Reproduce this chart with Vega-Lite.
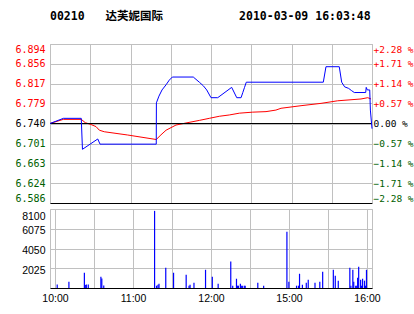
{
  "$schema": "https://vega.github.io/schema/vega-lite/v6.json",
  "padding": {"left": 14, "top": 11, "right": 0, "bottom": 0},
  "background": "white",
  "title": {
    "text": "00210\u00a0\u00a0\u00a0达芙妮国际\u00a0\u00a0\u00a0\u00a0\u00a0\u00a0\u00a0\u00a0\u00a0\u00a0\u00a02010-03-09\u00a016:03:48",
    "anchor": "start",
    "frame": "group",
    "font": "DejaVu Sans Mono, Noto Sans CJK SC",
    "fontSize": 11.5,
    "fontWeight": "bold",
    "color": "#000000",
    "offset": 21
  },
  "bounds": "flush",
  "spacing": 6,
  "config": {
    "view": {"stroke": "#c0c0c0", "strokeWidth": 1},
    "axis": {"labelOverlap": false, "ticks": false, "gridColor": "#c0c0c0", "gridOpacity": 1, "gridWidth": 1, "title": null}
  },
  "datasets": {
    "base": [{"close": 6.74}],
    "price": [
      {"t": 0, "p": 6.74}, {"t": 10, "p": 6.75}, {"t": 23.3, "p": 6.75}, {"t": 24.2, "p": 6.69},
      {"t": 35.6, "p": 6.71}, {"t": 37.3, "p": 6.70}, {"t": 79.2, "p": 6.70}, {"t": 79.3, "p": 6.78},
      {"t": 81.2, "p": 6.793}, {"t": 83.5, "p": 6.805}, {"t": 86.5, "p": 6.815}, {"t": 88.9, "p": 6.824},
      {"t": 91.2, "p": 6.83}, {"t": 106.8, "p": 6.83}, {"t": 111.3, "p": 6.82}, {"t": 114.3, "p": 6.813},
      {"t": 116.8, "p": 6.805}, {"t": 120, "p": 6.79}, {"t": 125, "p": 6.79}, {"t": 135.4, "p": 6.81},
      {"t": 139.2, "p": 6.79}, {"t": 142.4, "p": 6.79}, {"t": 143.7, "p": 6.80}, {"t": 145, "p": 6.81},
      {"t": 146.3, "p": 6.82}, {"t": 203.7, "p": 6.82}, {"t": 205.7, "p": 6.85}, {"t": 215.6, "p": 6.85},
      {"t": 217.4, "p": 6.82}, {"t": 219.6, "p": 6.811}, {"t": 222.6, "p": 6.808}, {"t": 224.6, "p": 6.804},
      {"t": 226.8, "p": 6.80}, {"t": 235.3, "p": 6.80}, {"t": 235.7, "p": 6.81}, {"t": 236.5, "p": 6.805},
      {"t": 238.3, "p": 6.805}, {"t": 238.8, "p": 6.766}, {"t": 240, "p": 6.73}
    ],
    "avg": [
      {"t": 0, "a": 6.74}, {"t": 9.9, "a": 6.748}, {"t": 23.3, "a": 6.748}, {"t": 26.3, "a": 6.7416},
      {"t": 30.6, "a": 6.738}, {"t": 34.3, "a": 6.734}, {"t": 36.8, "a": 6.727}, {"t": 40.5, "a": 6.724},
      {"t": 57.9, "a": 6.7177}, {"t": 79.2, "a": 6.709}, {"t": 82.7, "a": 6.718}, {"t": 86.5, "a": 6.727},
      {"t": 90.2, "a": 6.732}, {"t": 93.9, "a": 6.737}, {"t": 101.4, "a": 6.741}, {"t": 111.3, "a": 6.746},
      {"t": 118.7, "a": 6.750}, {"t": 126.2, "a": 6.754}, {"t": 133.6, "a": 6.7565}, {"t": 141.1, "a": 6.760},
      {"t": 151.1, "a": 6.762}, {"t": 161, "a": 6.763}, {"t": 168.4, "a": 6.766}, {"t": 172.2, "a": 6.7695},
      {"t": 187.1, "a": 6.7745}, {"t": 202, "a": 6.779}, {"t": 214.4, "a": 6.784}, {"t": 231.8, "a": 6.7875},
      {"t": 236.8, "a": 6.790}, {"t": 239.3, "a": 6.7875}
    ],
    "vol": [
      {"t": 1.7, "v": 370}, {"t": 10.7, "v": 645}, {"t": 22.6, "v": 1565}, {"t": 23.3, "v": 310},
      {"t": 24.1, "v": 370}, {"t": 25.6, "v": 370}, {"t": 35.3, "v": 1155}, {"t": 36.0, "v": 980},
      {"t": 37.5, "v": 265}, {"t": 76.6, "v": 7910}, {"t": 78.1, "v": 235}, {"t": 79.2, "v": 340},
      {"t": 80.0, "v": 440}, {"t": 85.2, "v": 2075}, {"t": 91.2, "v": 1565}, {"t": 100.9, "v": 1360},
      {"t": 103.1, "v": 235}, {"t": 103.9, "v": 340}, {"t": 106.9, "v": 540}, {"t": 115.8, "v": 1870},
      {"t": 121.0, "v": 1155}, {"t": 125.5, "v": 440}, {"t": 135.2, "v": 2720}, {"t": 136.7, "v": 235},
      {"t": 139.6, "v": 950}, {"t": 140.4, "v": 235}, {"t": 141.1, "v": 235}, {"t": 142.6, "v": 440},
      {"t": 143.3, "v": 235}, {"t": 144.1, "v": 235}, {"t": 145.6, "v": 235}, {"t": 146.3, "v": 235},
      {"t": 156.0, "v": 540}, {"t": 160.5, "v": 235}, {"t": 178.4, "v": 5760}, {"t": 179.9, "v": 645},
      {"t": 185.8, "v": 235}, {"t": 187.3, "v": 235}, {"t": 188.1, "v": 1460}, {"t": 190.3, "v": 340},
      {"t": 193.3, "v": 540}, {"t": 194.8, "v": 850}, {"t": 200.0, "v": 540}, {"t": 203.7, "v": 645},
      {"t": 205.9, "v": 1670}, {"t": 214.1, "v": 1870}, {"t": 215.6, "v": 1260}, {"t": 217.9, "v": 750},
      {"t": 226.8, "v": 2075}, {"t": 227.6, "v": 235}, {"t": 229.1, "v": 1870}, {"t": 229.8, "v": 645},
      {"t": 231.3, "v": 235}, {"t": 232.1, "v": 235}, {"t": 232.8, "v": 1050}, {"t": 233.6, "v": 2180},
      {"t": 235.1, "v": 850}, {"t": 235.8, "v": 235}, {"t": 236.6, "v": 950}, {"t": 238.1, "v": 750},
      {"t": 238.8, "v": 235}, {"t": 239.6, "v": 1870}
    ]
  },
  "vconcat": [
    {
      "width": 322,
      "height": 159,
      "layer": [
        {
          "data": {"name": "avg"},
          "mark": {"type": "line", "color": "#ff0000", "strokeWidth": 1},
          "encoding": {
            "x": {
              "field": "t", "type": "quantitative",
              "scale": {"domain": [0, 240], "nice": false, "zero": false},
              "axis": {"values": [0, 30, 60, 90, 120, 150, 180, 210, 240], "labels": false, "ticks": false, "domain": true, "domainColor": "#000000", "grid": true, "title": null}
            },
            "y": {
              "field": "a", "type": "quantitative",
              "scale": {"domain": [6.586, 6.894], "nice": false, "zero": false},
              "axis": {
                "orient": "left",
                "values": [6.586, 6.624, 6.663, 6.701, 6.74, 6.779, 6.817, 6.856, 6.894],
                "format": ".3f",
                "labelFont": "DejaVu Sans Mono",
                "labelFontSize": 10,
                "labelPadding": 5,
                "labelFlush": true,
                "labelColor": {"condition": [{"test": "datum.value > 6.741", "value": "#ff0000"}, {"test": "datum.value < 6.739", "value": "#006000"}], "value": "#000000"},
                "domain": false, "ticks": false, "grid": true, "title": null
              }
            }
          }
        },
        {
          "data": {"name": "base"},
          "mark": {"type": "rule", "color": "#000000", "strokeWidth": 1},
          "encoding": {
            "y": {"field": "close", "type": "quantitative", "scale": {"domain": [6.586, 6.894], "nice": false, "zero": false}, "axis": null}
          }
        },
        {
          "data": {"name": "price"},
          "mark": {"type": "line", "color": "#0000ff", "strokeWidth": 1},
          "encoding": {
            "x": {"field": "t", "type": "quantitative", "scale": {"domain": [0, 240], "nice": false, "zero": false}},
            "y": {
              "field": "p", "type": "quantitative",
              "scale": {"domain": [6.586, 6.894], "nice": false, "zero": false},
              "axis": {
                "orient": "right",
                "values": [6.586, 6.624, 6.663, 6.701, 6.74, 6.779, 6.817, 6.856, 6.894],
                "labelExpr": "(round((datum.value-6.74)/0.0385) > 0 ? '+' : round((datum.value-6.74)/0.0385) < 0 ? '\u2212' : '\u00a0') + format(abs(round((datum.value-6.74)/0.0385))*0.57, '.2f') + ' %'",
                "labelFont": "DejaVu Sans Mono",
                "labelFontSize": 9.5,
                "labelPadding": 1,
                "labelFlush": true,
                "labelColor": {"condition": [{"test": "datum.value > 6.741", "value": "#ff0000"}, {"test": "datum.value < 6.739", "value": "#006000"}], "value": "#000000"},
                "domain": true, "domainColor": "#c0c0c0", "ticks": false, "grid": false, "title": null
              }
            }
          }
        }
      ],
      "resolve": {"axis": {"y": "independent"}}
    },
    {
      "width": 322,
      "height": 79,
      "data": {"name": "vol"},
      "mark": {"type": "bar", "color": "#0000ff", "size": 1.2},
      "encoding": {
        "x": {
          "field": "t", "type": "quantitative",
          "scale": {"domain": [0, 240], "nice": false, "zero": false},
          "axis": {
            "values": [0, 30, 60, 90, 120, 150, 180, 210, 240],
            "labelExpr": "datum.value == 0 ? '10:00' : datum.value == 60 ? '11:00' : datum.value == 120 ? '12:00' : datum.value == 180 ? '15:00' : datum.value == 240 ? '16:00' : ''",
            "labelFont": "Liberation Sans",
            "labelFontSize": 10.5,
            "labelColor": "#000000",
            "labelPadding": 5,
            "labelFlush": false,
            "domain": true, "domainColor": "#000000", "ticks": false, "grid": true, "title": null
          }
        },
        "y": {
          "field": "v", "type": "quantitative",
          "scale": {"domain": [0, 8100], "nice": false},
          "axis": {
            "values": [2025, 4050, 6075, 8100],
            "format": "d",
            "labelFont": "Liberation Sans",
            "labelFontSize": 10.5,
            "labelColor": "#000000",
            "labelPadding": 5,
            "labelFlush": true,
            "labelOffset": 2,
            "domain": false, "ticks": false, "grid": true, "title": null
          }
        }
      }
    }
  ]
}
